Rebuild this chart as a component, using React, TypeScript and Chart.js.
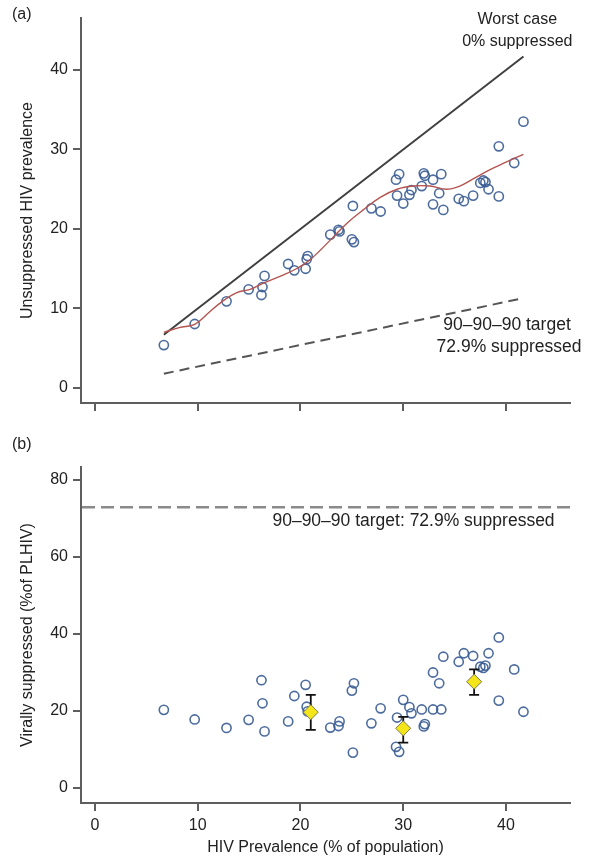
import React, { useEffect, useRef } from 'react';
import { Chart, registerables } from 'chart.js';

Chart.register(...registerables);

// ---------- data ----------
const prevalence = [6.7, 9.7, 12.8, 14.95, 16.2, 16.3, 16.5, 18.8, 19.4, 20.5, 20.6, 20.7, 22.9, 23.7, 23.8, 25.0, 25.2, 25.1, 26.9, 27.8, 29.3, 29.6, 29.4, 30.0, 30.6, 30.8, 31.8, 32.0, 32.1, 32.9, 33.7, 32.9, 33.5, 33.9, 35.4, 35.9, 36.8, 38.3, 37.5, 37.8, 38.0, 39.3, 39.3, 40.8, 41.7];
const unsuppressed = [5.4, 8.05, 10.9, 12.4, 11.7, 12.7, 14.1, 15.6, 14.8, 15.0, 16.2, 16.6, 19.3, 19.9, 19.7, 18.7, 18.35, 22.9, 22.6, 22.2, 26.2, 26.9, 24.2, 23.2, 24.3, 24.9, 25.4, 27.0, 26.7, 26.2, 26.9, 23.1, 24.5, 22.4, 23.8, 23.5, 24.2, 25.0, 25.8, 26.1, 25.9, 24.1, 30.4, 28.3, 33.5];
const suppressed = [20.3, 17.8, 15.6, 17.7, 28.0, 22.0, 14.7, 17.3, 23.9, 26.8, 21.1, 19.9, 15.7, 16.1, 17.3, 25.3, 27.2, 9.2, 16.8, 20.7, 10.7, 9.4, 18.3, 22.9, 21.0, 19.4, 20.4, 16.0, 16.6, 20.4, 20.4, 30.0, 27.2, 34.1, 32.8, 35.0, 34.3, 35.0, 31.5, 31.2, 31.8, 39.1, 22.7, 30.8, 19.8];

const loessX = [6.7, 8.2, 9.7, 11.0, 12.3, 13.8, 15.1, 16.4, 18.3, 19.6, 20.9, 22.9, 24.5, 26.1, 27.8, 29.4, 31.0, 32.6, 34.2, 35.5, 36.8, 38.5, 40.0, 41.7];
const loessY = [7.0, 7.6, 8.0, 9.4, 10.8, 12.0, 12.4, 13.2, 14.2, 15.0, 16.1, 18.6, 20.7, 22.4, 24.0, 25.0, 25.4, 25.4, 25.0, 25.4, 26.3, 27.5, 28.4, 29.4];

const worstCaseX = [6.7, 41.7];
const worstCaseY = [6.7, 41.7];
const targetLineX = [6.7, 41.7];
const targetLineY = [1.8, 11.3];
const targetSuppressedPct = 72.9;

const groupX = [21.0, 30.0, 36.9];
const groupMean = [19.7, 15.5, 27.6];
const groupLow = [15.1, 11.8, 24.2];
const groupHigh = [24.2, 18.5, 30.8];

const xTickValues = [0, 10, 20, 30, 40];
const topYTickValues = [0, 10, 20, 30, 40];
const bottomYTickValues = [0, 20, 40, 60, 80];

// ---------- style ----------
const FONT = '"Liberation Sans", Arial, Helvetica, sans-serif';
const FSIZE = 16;
const NOTE_BIG = 17.5;
const TEXT = '#222222';
const AXIS = '#5e5e5e';
const CIRCLE = 'rgba(58,92,148,0.9)';

const zip = (xs: number[], ys: number[]) => xs.map((x, i) => ({ x, y: ys[i] }));

function makeScale(kind: 'x' | 'y', min: number, max: number, tickVals: number[], size: number, title: string | null, showLabels: boolean, titlePad: any) {
  return {
    type: 'linear',
    position: kind === 'x' ? 'bottom' : 'left',
    min,
    max,
    afterBuildTicks: (s: any) => {
      s.ticks = tickVals.map((v) => ({ value: v }));
    },
    afterFit: (s: any) => {
      if (kind === 'x') s.height = size;
      else s.width = size;
    },
    border: { display: true, color: AXIS, width: 2 },
    grid: { display: true, drawOnChartArea: false, drawTicks: true, tickLength: 8, color: AXIS, lineWidth: 2 },
    ticks: {
      color: showLabels ? TEXT : 'rgba(0,0,0,0)',
      font: { family: FONT, size: FSIZE },
      padding: 5,
      autoSkip: false,
      maxRotation: 0,
      minRotation: 0,
    },
    title: title
      ? { display: true, text: title, color: TEXT, font: { family: FONT, size: FSIZE }, padding: titlePad }
      : { display: false },
  };
}

type Note = { text: string; x: number; y: number; size: number };

const textPlugin = (notes: Note[], panel: string) => ({
  id: 'notes' + panel,
  afterDraw(chart: any) {
    const { ctx, scales } = chart;
    ctx.save();
    ctx.fillStyle = TEXT;
    ctx.textBaseline = 'middle';
    ctx.textAlign = 'center';
    for (const n of notes) {
      ctx.font = `${n.size}px ${FONT}`;
      ctx.fillText(n.text, scales.x.getPixelForValue(n.x), scales.y.getPixelForValue(n.y));
    }
    ctx.font = `${FSIZE}px ${FONT}`;
    ctx.textAlign = 'left';
    ctx.fillText(panel, 12, 15);
    ctx.restore();
  },
});

const refLinePlugin = {
  id: 'refLine',
  beforeDatasetsDraw(chart: any) {
    const { ctx, chartArea, scales } = chart;
    const y = scales.y.getPixelForValue(targetSuppressedPct);
    ctx.save();
    ctx.strokeStyle = '#8a8a8a';
    ctx.lineWidth = 2.5;
    ctx.setLineDash([13, 6]);
    ctx.beginPath();
    ctx.moveTo(chartArea.left + 1, y);
    ctx.lineTo(chartArea.right, y);
    ctx.stroke();
    ctx.restore();
  },
};

const errorBarPlugin = {
  id: 'errorBars',
  afterDatasetDraw(chart: any, args: any) {
    if (args.index !== 1) return;
    const { ctx, scales } = chart;
    ctx.save();
    ctx.strokeStyle = '#111';
    ctx.lineWidth = 1.8;
    groupX.forEach((gx, i) => {
      const px = scales.x.getPixelForValue(gx);
      const lo = scales.y.getPixelForValue(groupLow[i]);
      const hi = scales.y.getPixelForValue(groupHigh[i]);
      ctx.beginPath();
      ctx.moveTo(px, lo);
      ctx.lineTo(px, hi);
      ctx.moveTo(px - 5, lo);
      ctx.lineTo(px + 5, lo);
      ctx.moveTo(px - 5, hi);
      ctx.lineTo(px + 5, hi);
      ctx.stroke();
    });
    ctx.restore();
  },
};

export default function App() {
  const topRef = useRef<HTMLCanvasElement>(null);
  const botRef = useRef<HTMLCanvasElement>(null);

  useEffect(() => {
    Chart.defaults.font.family = FONT;
    const common = {
      animation: false as const,
      responsive: false,
      maintainAspectRatio: false,
      events: [] as any[],
      plugins: { legend: { display: false }, tooltip: { enabled: false } },
    };

    const top = new Chart(topRef.current as HTMLCanvasElement, {
      type: 'scatter',
      data: {
        datasets: [
          {
            label: 'Smoothed',
            data: zip(loessX, loessY),
            showLine: true,
            borderColor: '#b5544f',
            borderWidth: 1.4,
            pointRadius: 0,
            tension: 0.4,
            fill: false,
          },
          {
            label: 'Countries',
            data: zip(prevalence, unsuppressed),
            pointRadius: 4.6,
            pointBorderWidth: 1.6,
            borderColor: CIRCLE,
            pointBorderColor: CIRCLE,
            backgroundColor: 'rgba(255,255,255,0)',
            pointBackgroundColor: 'rgba(255,255,255,0)',
          },
          {
            label: 'Worst case',
            data: zip(worstCaseX, worstCaseY),
            showLine: true,
            borderColor: '#404040',
            borderWidth: 2,
            pointRadius: 0,
          },
          {
            label: '90-90-90 target',
            data: zip(targetLineX, targetLineY),
            showLine: true,
            borderColor: '#555555',
            borderWidth: 2,
            borderDash: [10, 6],
            pointRadius: 0,
          },
        ],
      } as any,
      options: {
        ...common,
        layout: { padding: { top: 18, right: 22, left: 0, bottom: 0 } },
        scales: {
          x: makeScale('x', -1.363, 46.23, xTickValues, 27, null, false, 0),
          y: makeScale('y', -1.887, 46.54, topYTickValues, 81, 'Unsuppressed HIV prevalence', true, { top: 18, bottom: 0 }),
        },
      } as any,
      plugins: [
        textPlugin(
          [
            { text: 'Worst case', x: 41.1, y: 46.3, size: FSIZE },
            { text: '0% suppressed', x: 41.1, y: 43.6, size: FSIZE },
            { text: '90–90–90 target', x: 40.1, y: 7.9, size: NOTE_BIG },
            { text: '72.9% suppressed', x: 40.3, y: 5.15, size: NOTE_BIG },
          ],
          '(a)'
        ),
      ],
    });

    const bottom = new Chart(botRef.current as HTMLCanvasElement, {
      type: 'scatter',
      data: {
        datasets: [
          {
            label: 'Group mean',
            data: zip(groupX, groupMean),
            pointStyle: 'rectRot',
            pointRadius: 7.5,
            pointBorderWidth: 1,
            borderColor: '#7a7a50',
            pointBorderColor: '#7a7a50',
            backgroundColor: '#f4e519',
            pointBackgroundColor: '#f4e519',
          },
          {
            label: 'Countries',
            data: zip(prevalence, suppressed),
            pointRadius: 4.6,
            pointBorderWidth: 1.6,
            borderColor: CIRCLE,
            pointBorderColor: CIRCLE,
            backgroundColor: 'rgba(255,255,255,0)',
            pointBackgroundColor: 'rgba(255,255,255,0)',
          },
        ],
      } as any,
      options: {
        ...common,
        layout: { padding: { top: 37, right: 22, left: 0, bottom: 0 } },
        scales: {
          x: makeScale('x', -1.363, 46.23, xTickValues, 61, 'HIV Prevalence (% of population)', true, { top: 0, bottom: 7 }),
          y: makeScale('y', -3.896, 83.38, bottomYTickValues, 81, 'Virally suppressed (%of PLHIV)', true, { top: 18, bottom: 0 }),
        },
      } as any,
      plugins: [
        refLinePlugin,
        errorBarPlugin,
        textPlugin([{ text: '90–90–90 target: 72.9% suppressed', x: 31.0, y: 69.4, size: NOTE_BIG }], '(b)'),
      ],
    });

    return () => {
      top.destroy();
      bottom.destroy();
    };
  }, []);

  return (
    <div style={{ position: 'absolute', left: 0, top: 0, width: 592, height: 864, background: '#ffffff' }}>
      <canvas ref={topRef} width={592} height={430} style={{ position: 'absolute', left: 0, top: 0, display: 'block' }} />
      <canvas ref={botRef} width={592} height={434} style={{ position: 'absolute', left: 0, top: 430, display: 'block' }} />
    </div>
  );
}
